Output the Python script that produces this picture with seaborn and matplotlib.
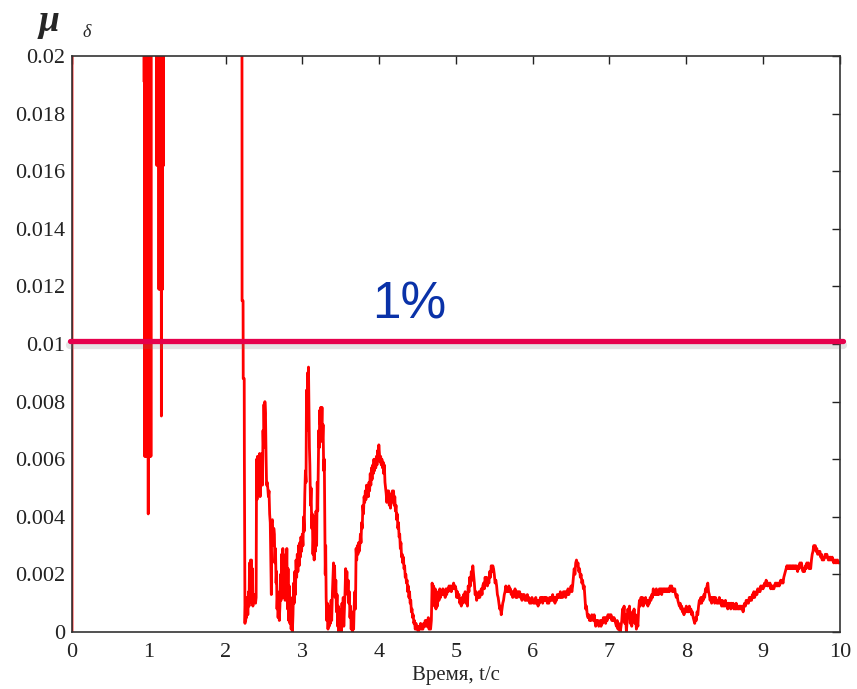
import numpy as np
import matplotlib
matplotlib.use("Agg")
import matplotlib.pyplot as plt
import matplotlib.patheffects as pe
import seaborn as sns

# --- данные ---
# начальные выбросы (значения 0.05 лежат выше оси)
spikes = [
    (0.000, 0.0000), (0.000, 0.0500), (0.930, 0.0500), (0.940, 0.0191), (0.941, 0.0500),
    (0.946, 0.0500), (0.947, 0.0061), (0.953, 0.0500), (0.958, 0.0061), (0.964, 0.0500),
    (0.970, 0.0061), (0.976, 0.0500), (0.982, 0.0061), (0.988, 0.0500), (0.993, 0.0041),
    (0.998, 0.0500), (1.004, 0.0061), (1.010, 0.0500), (1.016, 0.0061), (1.022, 0.0500),
    (1.028, 0.0061), (1.034, 0.0500), (1.100, 0.0500), (1.105, 0.0162), (1.112, 0.0500),
    (1.120, 0.0162), (1.126, 0.0500), (1.132, 0.0119), (1.140, 0.0500), (1.148, 0.0119),
    (1.156, 0.0500), (1.164, 0.0075), (1.170, 0.0500), (1.178, 0.0119), (1.186, 0.0500),
    (1.192, 0.0162), (1.198, 0.0500), (2.210, 0.0500), (2.215, 0.0115), (2.228, 0.0115),
    (2.230, 0.0088), (2.243, 0.0088), (2.245, 0.0060), (2.253, 0.0003),
]

# переходный процесс 2.25 ... 4.59 с
transient = [
    (2.258, 0.0009), (2.262, 0.0004), (2.268, 0.0008), (2.272, 0.0005), (2.280, 0.0012),
    (2.290, 0.0006), (2.300, 0.0014), (2.306, 0.0009), (2.312, 0.0024), (2.318, 0.0013),
    (2.325, 0.0025), (2.330, 0.0011), (2.338, 0.0025), (2.344, 0.0010), (2.350, 0.0022),
    (2.356, 0.0009), (2.362, 0.0012), (2.370, 0.0011), (2.380, 0.0013), (2.390, 0.0010),
    (2.398, 0.0012), (2.404, 0.0060), (2.410, 0.0046), (2.416, 0.0061), (2.422, 0.0048),
    (2.430, 0.0060), (2.436, 0.0050), (2.444, 0.0062), (2.450, 0.0047), (2.458, 0.0060),
    (2.466, 0.0052), (2.474, 0.0062), (2.480, 0.0051), (2.488, 0.0070), (2.494, 0.0064),
    (2.500, 0.0079), (2.506, 0.0070), (2.512, 0.0080), (2.520, 0.0076), (2.528, 0.0060),
    (2.534, 0.0051), (2.542, 0.0052), (2.550, 0.0050), (2.558, 0.0047), (2.566, 0.0049),
    (2.574, 0.0041), (2.582, 0.0038), (2.590, 0.0024), (2.596, 0.0013), (2.600, 0.0038),
    (2.610, 0.0039), (2.620, 0.0030), (2.628, 0.0036), (2.636, 0.0034), (2.642, 0.0024),
    (2.650, 0.0029), (2.658, 0.0017), (2.664, 0.0021), (2.670, 0.0008), (2.678, 0.0014),
    (2.684, 0.0005), (2.692, 0.0012), (2.700, 0.0004), (2.708, 0.0009), (2.716, 0.0020),
    (2.722, 0.0011), (2.730, 0.0027), (2.738, 0.0015), (2.746, 0.0029), (2.752, 0.0012),
    (2.760, 0.0026), (2.768, 0.0019), (2.776, 0.0011), (2.784, 0.0027), (2.790, 0.0017),
    (2.798, 0.0029), (2.806, 0.0008), (2.814, 0.0022), (2.822, 0.0004), (2.830, 0.0016),
    (2.838, 0.0003), (2.846, 0.0012), (2.854, 0.0001), (2.862, 0.0009), (2.870, 0.0000),
    (2.878, 0.0006), (2.886, 0.0017), (2.894, 0.0010), (2.902, 0.0021), (2.910, 0.0013),
    (2.918, 0.0025), (2.926, 0.0019), (2.934, 0.0027), (2.942, 0.0021), (2.950, 0.0030),
    (2.958, 0.0023), (2.966, 0.0031), (2.974, 0.0026), (2.982, 0.0033), (2.990, 0.0028),
    (3.000, 0.0034), (3.008, 0.0030), (3.016, 0.0040), (3.024, 0.0035), (3.032, 0.0048),
    (3.040, 0.0056), (3.048, 0.0052), (3.054, 0.0084), (3.060, 0.0070), (3.068, 0.0090),
    (3.074, 0.0085), (3.080, 0.0092), (3.086, 0.0078), (3.092, 0.0064), (3.098, 0.0058),
    (3.106, 0.0044), (3.114, 0.0050), (3.122, 0.0036), (3.130, 0.0041), (3.138, 0.0027),
    (3.146, 0.0034), (3.154, 0.0025), (3.162, 0.0040), (3.170, 0.0028), (3.178, 0.0042),
    (3.186, 0.0030), (3.194, 0.0052), (3.200, 0.0042), (3.208, 0.0057), (3.214, 0.0070),
    (3.220, 0.0064), (3.226, 0.0077), (3.234, 0.0072), (3.240, 0.0078), (3.248, 0.0070),
    (3.256, 0.0078), (3.262, 0.0066), (3.270, 0.0072), (3.278, 0.0056), (3.286, 0.0060),
    (3.292, 0.0038), (3.298, 0.0020), (3.304, 0.0030), (3.310, 0.0012), (3.318, 0.0004),
    (3.326, 0.0010), (3.334, 0.0001), (3.342, 0.0007), (3.350, 0.0002), (3.358, 0.0009),
    (3.366, 0.0003), (3.374, 0.0011), (3.382, 0.0004), (3.392, 0.0014), (3.400, 0.0020),
    (3.406, 0.0024), (3.414, 0.0016), (3.420, 0.0023), (3.428, 0.0012), (3.436, 0.0018),
    (3.444, 0.0007), (3.452, 0.0013), (3.460, 0.0002), (3.468, 0.0009), (3.476, 0.0000),
    (3.484, 0.0008), (3.492, 0.0001), (3.500, 0.0006), (3.508, 0.0000), (3.516, 0.0010),
    (3.524, 0.0004), (3.532, 0.0012), (3.540, 0.0002), (3.548, 0.0008), (3.556, 0.0014),
    (3.564, 0.0022), (3.572, 0.0016), (3.580, 0.0021), (3.588, 0.0013), (3.596, 0.0018),
    (3.604, 0.0010), (3.612, 0.0014), (3.620, 0.0005), (3.628, 0.0009), (3.636, 0.0001),
    (3.644, 0.0007), (3.652, 0.0000), (3.660, 0.0005), (3.668, 0.0001), (3.676, 0.0010),
    (3.684, 0.0014), (3.692, 0.0008), (3.700, 0.0029), (3.708, 0.0025), (3.716, 0.0030),
    (3.724, 0.0027), (3.732, 0.0031), (3.740, 0.0028), (3.748, 0.0030), (3.756, 0.0034),
    (3.764, 0.0031), (3.772, 0.0038), (3.780, 0.0036), (3.788, 0.0044), (3.796, 0.0041),
    (3.804, 0.0047), (3.812, 0.0045), (3.820, 0.0049), (3.828, 0.0046), (3.836, 0.0051),
    (3.844, 0.0048), (3.852, 0.0050), (3.860, 0.0047), (3.868, 0.0052), (3.876, 0.0049),
    (3.884, 0.0055), (3.892, 0.0051), (3.900, 0.0057), (3.908, 0.0053), (3.916, 0.0058),
    (3.924, 0.0055), (3.932, 0.0060), (3.940, 0.0056), (3.948, 0.0059), (3.956, 0.0057),
    (3.964, 0.0061), (3.972, 0.0058), (3.980, 0.0063), (3.988, 0.0060), (3.996, 0.0065),
    (4.004, 0.0062), (4.012, 0.0059), (4.020, 0.0061), (4.028, 0.0058), (4.036, 0.0060),
    (4.044, 0.0057), (4.052, 0.0059), (4.060, 0.0055), (4.068, 0.0058), (4.076, 0.0052),
    (4.084, 0.0050), (4.092, 0.0048), (4.100, 0.0045), (4.108, 0.0049), (4.116, 0.0046),
    (4.124, 0.0049), (4.132, 0.0044), (4.140, 0.0047), (4.148, 0.0043), (4.156, 0.0048),
    (4.164, 0.0045), (4.172, 0.0049), (4.180, 0.0046), (4.188, 0.0049), (4.196, 0.0044),
    (4.204, 0.0047), (4.212, 0.0042), (4.220, 0.0044), (4.228, 0.0039), (4.236, 0.0041),
    (4.244, 0.0036), (4.252, 0.0038), (4.260, 0.0033), (4.268, 0.0034), (4.276, 0.0029),
    (4.284, 0.0031), (4.292, 0.0026), (4.300, 0.0027), (4.308, 0.0024), (4.316, 0.0026),
    (4.324, 0.0022), (4.332, 0.0023), (4.340, 0.0019), (4.348, 0.0020), (4.356, 0.0017),
    (4.364, 0.0018), (4.372, 0.0014), (4.380, 0.0016), (4.388, 0.0012), (4.396, 0.0014),
    (4.404, 0.0010), (4.412, 0.0011), (4.420, 0.0007), (4.428, 0.0008), (4.436, 0.0005),
    (4.444, 0.0006), (4.452, 0.0003), (4.460, 0.0004), (4.470, 0.0001), (4.480, 0.0003),
    (4.490, 0.0001), (4.500, 0.0002), (4.510, 0.0000), (4.520, 0.0002), (4.530, 0.0001),
    (4.540, 0.0003), (4.550, 0.0001), (4.560, 0.0002), (4.570, 0.0001), (4.580, 0.0003),
    (4.590, 0.0002),
]

# установившийся режим: отсчёты через 0.01 с, от 4.60 до 10.00 с
steady_t0 = 4.60
steady = [
    0.0004, 0.0002, 0.0004, 0.0002, 0.0005, 0.0001, 0.0003, 0.0001, 0.0004, 0.0017,  # 4.60
    0.0012, 0.0016, 0.0009, 0.0015, 0.0008, 0.0013, 0.0009, 0.0014, 0.0011, 0.0015,
    0.0012, 0.0014, 0.0013, 0.0015, 0.0013, 0.0014, 0.0012, 0.0015, 0.0013, 0.0015,
    0.0014, 0.0016, 0.0015, 0.0016, 0.0014, 0.0016, 0.0015, 0.0017, 0.0015, 0.0016,
    0.0015, 0.0012, 0.0014, 0.0012, 0.0013, 0.0010, 0.0011, 0.0009, 0.0012, 0.0010,  # 5.00
    0.0013, 0.0011, 0.0014, 0.0010, 0.0012, 0.0009, 0.0016, 0.0014, 0.0019, 0.0016,
    0.0021, 0.0018, 0.0023, 0.0020, 0.0017, 0.0013, 0.0014, 0.0011, 0.0013, 0.0012,
    0.0014, 0.0012, 0.0013, 0.0015, 0.0013, 0.0016, 0.0017, 0.0015, 0.0019, 0.0017,
    0.0019, 0.0016, 0.0018, 0.0017, 0.0021, 0.0019, 0.0023, 0.0021, 0.0023, 0.0022,
    0.0020, 0.0017, 0.0018, 0.0016, 0.0013, 0.0012, 0.0010, 0.0008, 0.0009, 0.0006,
    0.0008, 0.0010, 0.0011, 0.0013, 0.0014, 0.0016, 0.0014, 0.0015, 0.0014, 0.0016,
    0.0014, 0.0015, 0.0013, 0.0014, 0.0012, 0.0014, 0.0013, 0.0015, 0.0012, 0.0014,
    0.0012, 0.0014, 0.0013, 0.0014, 0.0012, 0.0013, 0.0011, 0.0013, 0.0012, 0.0013,
    0.0011, 0.0012, 0.0011, 0.0013, 0.0011, 0.0012, 0.0010, 0.0011, 0.0010, 0.0012,
    0.0011, 0.0010, 0.0011, 0.0010, 0.0012, 0.0010, 0.0011, 0.0009, 0.0011, 0.0010,  # 6.00
    0.0012, 0.0011, 0.0012, 0.0010, 0.0012, 0.0011, 0.0012, 0.0011, 0.0012, 0.0010,
    0.0011, 0.0010, 0.0012, 0.0011, 0.0012, 0.0011, 0.0013, 0.0011, 0.0012, 0.0010,
    0.0012, 0.0011, 0.0013, 0.0012, 0.0013, 0.0012, 0.0014, 0.0012, 0.0013, 0.0012,
    0.0014, 0.0013, 0.0014, 0.0012, 0.0014, 0.0013, 0.0015, 0.0013, 0.0014, 0.0015,
    0.0016, 0.0014, 0.0016, 0.0019, 0.0022, 0.0020, 0.0024, 0.0025, 0.0023, 0.0024,
    0.0021, 0.0022, 0.0019, 0.0020, 0.0017, 0.0018, 0.0015, 0.0016, 0.0012, 0.0008,
    0.0009, 0.0006, 0.0005, 0.0006, 0.0004, 0.0005, 0.0004, 0.0006, 0.0005, 0.0004,
    0.0006, 0.0004, 0.0002, 0.0004, 0.0003, 0.0004, 0.0002, 0.0003, 0.0004, 0.0002,
    0.0004, 0.0003, 0.0005, 0.0004, 0.0005, 0.0003, 0.0005, 0.0004, 0.0006, 0.0005,
    0.0006, 0.0005, 0.0006, 0.0004, 0.0005, 0.0004, 0.0005, 0.0004, 0.0003, 0.0002,  # 7.00
    0.0004, 0.0001, 0.0003, 0.0001, 0.0000, 0.0002, 0.0004, 0.0008, 0.0006, 0.0009,
    0.0003, 0.0006, 0.0000, 0.0004, 0.0008, 0.0005, 0.0009, 0.0003, 0.0006, 0.0002,
    0.0007, 0.0004, 0.0008, 0.0003, 0.0006, 0.0001, 0.0004, 0.0002, 0.0008, 0.0011,
    0.0009, 0.0012, 0.0010, 0.0012, 0.0009, 0.0011, 0.0010, 0.0012, 0.0010, 0.0011,
    0.0009, 0.0011, 0.0010, 0.0012, 0.0011, 0.0013, 0.0012, 0.0015, 0.0013, 0.0014,
    0.0013, 0.0015, 0.0013, 0.0014, 0.0013, 0.0015, 0.0014, 0.0015, 0.0013, 0.0015,
    0.0014, 0.0015, 0.0014, 0.0015, 0.0014, 0.0015, 0.0014, 0.0015, 0.0014, 0.0016,
    0.0015, 0.0016, 0.0014, 0.0015, 0.0014, 0.0015, 0.0013, 0.0012, 0.0013, 0.0011,
    0.0010, 0.0009, 0.0010, 0.0008, 0.0009, 0.0007, 0.0008, 0.0006, 0.0008, 0.0007,
    0.0009, 0.0007, 0.0008, 0.0007, 0.0009, 0.0007, 0.0008, 0.0006, 0.0007, 0.0005,  # 8.00
    0.0004, 0.0003, 0.0005, 0.0004, 0.0007, 0.0006, 0.0009, 0.0011, 0.0010, 0.0012,
    0.0010, 0.0012, 0.0011, 0.0013, 0.0012, 0.0015, 0.0014, 0.0016, 0.0017, 0.0014,
    0.0013, 0.0011, 0.0012, 0.0010, 0.0012, 0.0011, 0.0012, 0.0010, 0.0012, 0.0011,
    0.0010, 0.0011, 0.0010, 0.0012, 0.0010, 0.0011, 0.0009, 0.0011, 0.0009, 0.0010,
    0.0009, 0.0011, 0.0009, 0.0010, 0.0008, 0.0010, 0.0009, 0.0010, 0.0008, 0.0010,
    0.0009, 0.0010, 0.0008, 0.0009, 0.0008, 0.0010, 0.0008, 0.0009, 0.0008, 0.0009,
    0.0008, 0.0009, 0.0008, 0.0009, 0.0007, 0.0009, 0.0010, 0.0009, 0.0011, 0.0010,
    0.0011, 0.0010, 0.0012, 0.0011, 0.0012, 0.0011, 0.0013, 0.0012, 0.0014, 0.0012,
    0.0013, 0.0014, 0.0013, 0.0015, 0.0014, 0.0015, 0.0014, 0.0016, 0.0015, 0.0016,
    0.0015, 0.0016, 0.0017, 0.0016, 0.0018, 0.0017, 0.0016, 0.0017, 0.0016, 0.0017,  # 9.00
    0.0015, 0.0016, 0.0015, 0.0016, 0.0015, 0.0016, 0.0017, 0.0016, 0.0017, 0.0016,
    0.0017, 0.0016, 0.0017, 0.0018, 0.0017, 0.0018, 0.0017, 0.0019, 0.0020, 0.0021,
    0.0022, 0.0023, 0.0022, 0.0023, 0.0022, 0.0023, 0.0022, 0.0023, 0.0022, 0.0023,
    0.0022, 0.0023, 0.0022, 0.0023, 0.0022, 0.0021, 0.0023, 0.0022, 0.0024, 0.0023,
    0.0024, 0.0022, 0.0021, 0.0022, 0.0021, 0.0023, 0.0022, 0.0024, 0.0023, 0.0024,
    0.0022, 0.0023, 0.0022, 0.0025, 0.0027, 0.0028, 0.0030, 0.0029, 0.0030, 0.0028,
    0.0029, 0.0027, 0.0028, 0.0027, 0.0028, 0.0026, 0.0027, 0.0025, 0.0026, 0.0025,
    0.0026, 0.0027, 0.0026, 0.0027, 0.0026, 0.0025, 0.0026, 0.0025, 0.0026, 0.0025,
    0.0026, 0.0025, 0.0024, 0.0025, 0.0024, 0.0025, 0.0024, 0.0025, 0.0024, 0.0024,
    0.0024,  # 10.00
]

threshold = 0.0101   # линия 1 %
threshold_label = "1%"
x_ticks = [0, 1, 2, 3, 4, 5, 6, 7, 8, 9, 10]
y_ticks = [0, 0.002, 0.004, 0.006, 0.008, 0.01, 0.012, 0.014, 0.016, 0.018, 0.02]
y_tick_labels = ["0", "0.002", "0.004", "0.006", "0.008", "0.01",
                 "0.012", "0.014", "0.016", "0.018", "0.02"]

# сборка ряда
t_steady = np.round(steady_t0 + 0.01 * np.arange(len(steady)), 2)
t_all = [p[0] for p in spikes + transient] + list(t_steady)
mu_all = [p[1] for p in spikes + transient] + steady

sns.set_style("white")
plt.rcParams["font.family"] = ["Liberation Serif", "DejaVu Serif"]

fig = plt.figure(figsize=(8.57, 6.89), dpi=100)
ax = fig.add_axes([0.084, 0.0827, 0.896, 0.836])

sns.lineplot(x=t_all, y=mu_all, ax=ax, color="#ff0000", linewidth=2.0,
             estimator=None, sort=False, legend=False)

ax.axhline(threshold, xmin=-0.002, xmax=1.004, color="#e6004c", linewidth=3.8,
           clip_on=False, zorder=5,
           path_effects=[pe.SimpleLineShadow(offset=(0, -2.5), shadow_color="#777777",
                                             alpha=0.2, linewidth=6),
                         pe.Normal()])
ax.text(4.39, 0.0109, threshold_label, color="#0a32a8", fontsize=37,
        family=["Liberation Sans", "DejaVu Sans"], ha="center", va="baseline")

ax.set_xlim(0, 10)
ax.set_ylim(0, 0.02)
ax.set_xticks(x_ticks)
ax.set_yticks(y_ticks)
ax.set_yticklabels(y_tick_labels)
ax.tick_params(direction="in", top=True, right=True, length=6, width=1.0,
               labelsize=16, colors="#222222")
ax.tick_params(axis="x", pad=8)
ax.tick_params(axis="y", pad=5)
for s in ax.spines.values():
    s.set_color("#333333")
    s.set_linewidth(1.2)

ax.set_xlabel("Время, t/c", fontsize=15, labelpad=3)
fig.text(0.045, 0.955, "μ", fontsize=27, fontstyle="italic", fontweight="bold",
         ha="left", va="baseline")
fig.text(0.096, 0.946, "δ", fontsize=13, fontstyle="italic", ha="left", va="baseline")

fig.savefig("out.png", dpi=100)
